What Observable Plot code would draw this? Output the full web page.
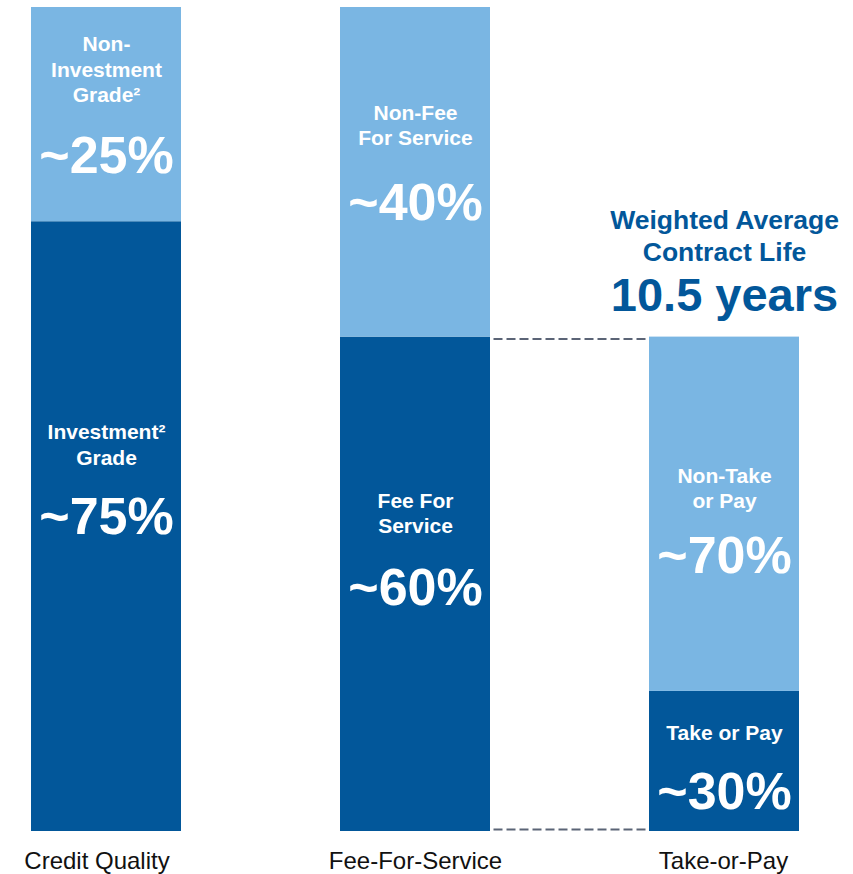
<!DOCTYPE html>
<html><head><meta charset="utf-8">
<script src="https://cdn.jsdelivr.net/npm/d3@7"></script>
<script src="https://cdn.jsdelivr.net/npm/@observablehq/plot@0.6"></script>
<style>body{margin:0;background:#fff;} svg{display:block}</style>
</head><body><div id="chart"></div>
<script>
// ---- data ----
const categories = ["Credit Quality", "Fee-For-Service", "Take-or-Pay"];
const segmentGroup = ["Credit Quality", "Credit Quality", "Fee-For-Service", "Fee-For-Service", "Take-or-Pay", "Take-or-Pay"];
const segmentLevel = ["lower", "upper", "lower", "upper", "lower", "upper"];
const segmentValue = [74, 26, 60, 40, 17, 43];
const segmentTitle = ["Investment²\nGrade", "Non-\nInvestment\nGrade²", "Fee For\nService", "Non-Fee\nFor Service", "Take or Pay", "Non-Take\nor Pay"];
const segmentPercent = ["~75%", "~25%", "~60%", "~40%", "~30%", "~70%"];
const noteTitle = "Weighted Average\nContract Life";
const noteValue = "10.5 years";

// ---- styles ----
const DARK = "#02579A", LIGHT = "#7AB6E3", NOTE = "#02579A", DASH = "#5B6476";
const titleDy = [222, 61, 175, 117, 40, 150];
const pctDy = [296, 149, 251, 196, 101, 219];
const labelDx = [-9.5, 0, -1];

// build rows with cumulative tops
const running = {};
const rows = segmentValue.map((v, i) => {
  const g = segmentGroup[i];
  const base = running[g] || 0;
  running[g] = base + v;
  return {group: g, level: segmentLevel[i], value: v, top: base + v, title: segmentTitle[i], pct: segmentPercent[i]};
});
const feeLowerTop = rows.find(d => d.group === "Fee-For-Service" && d.level === "lower").top;
const takeTop = running["Take-or-Pay"];

const marks = [
  Plot.link([{y: feeLowerTop}], {x1: () => "Fee-For-Service", x2: () => "Take-or-Pay", y1: "y", y2: "y", stroke: DASH, strokeWidth: 2, strokeDasharray: "9,4", dy: 2}),
  Plot.link([{y: 0}], {x1: () => "Fee-For-Service", x2: () => "Take-or-Pay", y1: "y", y2: "y", stroke: DASH, strokeWidth: 2, strokeDasharray: "9,4", dy: -2}),
  Plot.barY(rows, {x: "group", y: "value", fill: "level"})
];
rows.forEach((r, i) => {
  marks.push(Plot.text([r], {x: "group", y: "top", text: "title", dy: titleDy[i], lineAnchor: "middle", lineHeight: 1.21, fontSize: 21, fontWeight: "bold", fill: "white"}));
  marks.push(Plot.text([r], {x: "group", y: "top", text: "pct", dy: pctDy[i], lineAnchor: "middle", fontSize: 52, fontWeight: "bold", fill: "white"}));
});
const note = [{group: "Take-or-Pay", top: takeTop, title: noteTitle, value: noteValue}];
marks.push(Plot.text(note, {x: "group", y: "top", text: "title", dy: -102, lineAnchor: "middle", lineHeight: 1.21, fontSize: 26.5, fontWeight: "bold", fill: NOTE}));
marks.push(Plot.text(note, {x: "group", y: "top", text: "value", dy: -41, lineAnchor: "middle", fontSize: 47, fontWeight: "bold", fill: NOTE}));
categories.forEach((c, i) => {
  marks.push(Plot.text([c], {x: d => d, text: d => d, frameAnchor: "bottom", lineAnchor: "top", dy: 20, dx: labelDx[i], fontSize: 24, fill: "#111"}));
});

const chart = Plot.plot({
  width: 853,
  height: 874,
  marginLeft: 31,
  marginRight: 54,
  marginTop: 7,
  marginBottom: 43,
  style: {fontFamily: "'Liberation Sans', Arial, sans-serif", fontSize: "21px", color: "#111", background: "#fff"},
  x: {type: "band", domain: categories, paddingInner: 0.5146, paddingOuter: 0, align: 0.5, axis: null},
  y: {domain: [0, 100], axis: null},
  color: {domain: ["lower", "upper"], range: [DARK, LIGHT]},
  marks
});
document.getElementById("chart").appendChild(chart);
</script>
</body></html>
